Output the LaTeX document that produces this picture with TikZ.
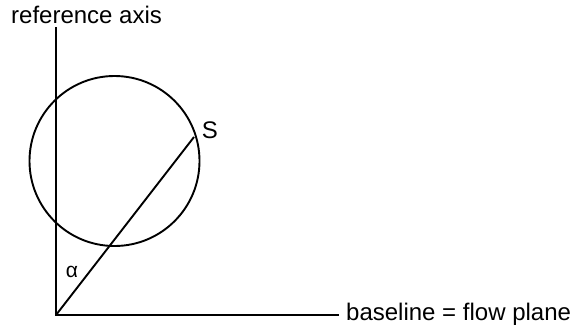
\documentclass[tikz,border=0pt]{standalone}
\usepackage{fontspec}
\setmainfont{Liberation Sans}
\usepackage{tikz}
\usetikzlibrary{positioning}

\begin{document}
\begin{tikzpicture}[x=1pt, y=-1pt,
        lbl/.style={font=\fontsize{24}{28}\selectfont, inner sep=0pt},
        thinline/.style={line width=1.9pt, line cap=butt}
      ]
        \useasboundingbox (0,0) rectangle (576,333);

        \coordinate (O)     at (56,315);
        \coordinate (axtop) at (56,27);
        \coordinate (bend)  at (339,315);
        \coordinate (S)     at (194,137);

        \node[circle, draw, thinline, minimum size=170pt, inner sep=0pt] (ring) at (114.5,161) {};

        \node[lbl, anchor=base west] (axlbl)   at (11,23)   {reference axis};
        \node[lbl, anchor=west]      (baselbl) at (346,314) {baseline = flow plane};
        \node[lbl, anchor=center]    (slbl)    at (210,130) {S};
        \node[lbl, font=\fontsize{21}{24}\selectfont] (alpha) at (72,272) {α};

        \draw[thinline] (axtop) -- (O) -- (bend);
        \draw[thinline] (O) -- (S);
      \end{tikzpicture}
\end{document}
